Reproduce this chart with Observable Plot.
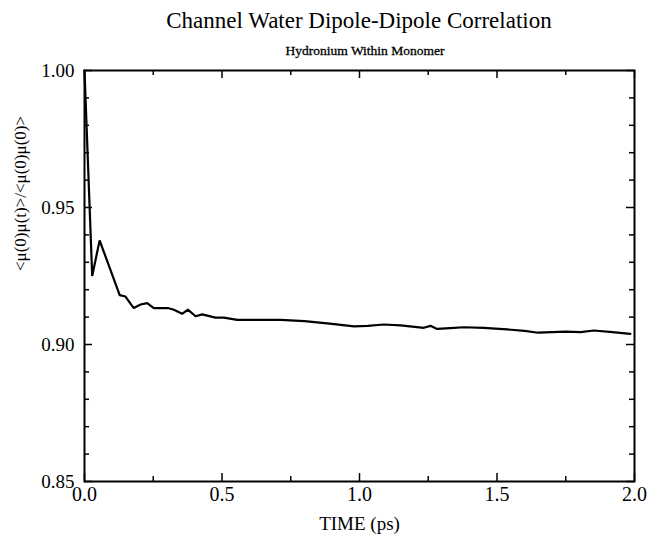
<!DOCTYPE html>
<html>
<head>
<meta charset="utf-8">
<script src="https://cdn.jsdelivr.net/npm/d3@7"></script>
<script src="https://cdn.jsdelivr.net/npm/@observablehq/plot@0.6"></script>
<style>
  html, body { margin: 0; padding: 0; background: #fff; }
  #wrap { width: 648px; height: 535px; position: relative; font-family: "Liberation Serif", "Times New Roman", serif; color: #000; }
  #title { position: absolute; left: 84px; width: 550px; top: 7px; text-align: center; font-size: 23px; line-height: 28px; }
  #subtitle { position: absolute; left: 90px; width: 550px; top: 43px; text-align: center; font-size: 13.5px; line-height: 16px; -webkit-text-stroke: 0.3px #000; }
  #chart { position: absolute; left: 0; top: 60px; }
</style>
</head>
<body>
<div id="wrap">
  <div id="title">Channel Water Dipole-Dipole Correlation</div>
  <div id="subtitle">Hydronium Within Monomer</div>
  <div id="chart"></div>
</div>
<script>
// Data
const time = [0, 0.028, 0.055, 0.128, 0.149, 0.179, 0.204, 0.228, 0.252, 0.303, 0.325, 0.355, 0.376, 0.404, 0.428, 0.476, 0.507, 0.555, 0.62, 0.713, 0.8, 0.9, 0.98, 1.03, 1.088, 1.15, 1.234, 1.258, 1.282, 1.33, 1.379, 1.452, 1.537, 1.6, 1.65, 1.7, 1.75, 1.804, 1.852, 1.92, 1.985];
const corr = [1.000, 0.925, 0.938, 0.918, 0.9175, 0.9133, 0.9146, 0.9151, 0.9133, 0.9133, 0.9127, 0.9112, 0.9127, 0.9103, 0.911, 0.9098, 0.9098, 0.909, 0.909, 0.909, 0.9085, 0.9075, 0.9066, 0.9068, 0.9073, 0.907, 0.9061, 0.9068, 0.9057, 0.906, 0.9063, 0.9061, 0.9055, 0.905, 0.9043, 0.9045, 0.9047, 0.9045, 0.9051, 0.9045, 0.9039];

const xMajorTicks = [0, 0.5, 1.0, 1.5, 2.0];
const xMinorTicks = [0.25, 0.75, 1.25, 1.75];
const yMajorTicks = [0.85, 0.90, 0.95, 1.00];
const yMinorTicks = [0.86, 0.87, 0.88, 0.89, 0.91, 0.92, 0.93, 0.94, 0.96, 0.97, 0.98, 0.99];
const xLabel = "TIME (ps)";
const yLabel = "<\u03bc(0)\u03bc(t)>/<\u03bc(0)\u03bc(0)>";

const series = time.map((t, i) => ({t, c: corr[i]}));

const W = 648, H = 475;
const mL = 84, mR = 14, mT = 10, mB = 54;
const pw = W - mL - mR, ph = H - mT - mB;
const major = 8, minor = 5;

const chart = Plot.plot({
  width: W, height: H,
  marginLeft: mL, marginRight: mR, marginTop: mT, marginBottom: mB,
  style: {fontFamily: "'Liberation Serif', 'Times New Roman', serif", fontSize: "20px", color: "#000", background: "#fff"},
  x: {domain: [0, 2], type: "linear"},
  y: {domain: [0.85, 1.0], type: "linear"},
  marks: [
    Plot.axisX({ticks: xMajorTicks, tickSize: 0, tickPadding: 5, tickFormat: d3.format(".1f"), label: null, fontSize: 20}),
    Plot.axisY({ticks: yMajorTicks, tickSize: 0, tickPadding: 10, tickFormat: d3.format(".2f"), label: null, fontSize: 19}),
    // inward ticks, bottom & top
    Plot.ruleX(xMajorTicks, {x: d => d, insetTop: ph - major, stroke: "#000", strokeWidth: 1.5}),
    Plot.ruleX(xMajorTicks, {x: d => d, insetBottom: ph - major, stroke: "#000", strokeWidth: 1.5}),
    Plot.ruleX(xMinorTicks, {x: d => d, insetTop: ph - minor, stroke: "#000", strokeWidth: 1.5}),
    Plot.ruleX(xMinorTicks, {x: d => d, insetBottom: ph - minor, stroke: "#000", strokeWidth: 1.5}),
    // inward ticks, left & right
    Plot.ruleY(yMajorTicks, {y: d => d, insetRight: pw - major, stroke: "#000", strokeWidth: 1.5}),
    Plot.ruleY(yMajorTicks, {y: d => d, insetLeft: pw - major, stroke: "#000", strokeWidth: 1.5}),
    Plot.ruleY(yMinorTicks, {y: d => d, insetRight: pw - minor, stroke: "#000", strokeWidth: 1.5}),
    Plot.ruleY(yMinorTicks, {y: d => d, insetLeft: pw - minor, stroke: "#000", strokeWidth: 1.5}),
    Plot.frame({stroke: "#000", strokeWidth: 2}),
    Plot.line(series, {x: "t", y: "c", stroke: "#000", strokeWidth: 2.2, strokeLinejoin: "miter"}),
    Plot.text([xLabel], {text: d => d, frameAnchor: "bottom", dy: 42, lineAnchor: "middle", fontSize: 19, fill: "#000"}),
    Plot.text([yLabel], {text: d => d, frameAnchor: "left", dx: -64, dy: -5, rotate: -90, lineAnchor: "middle", fontSize: 17, fill: "#000"})
  ]
});
document.getElementById("chart").appendChild(chart);
</script>
</body>
</html>
